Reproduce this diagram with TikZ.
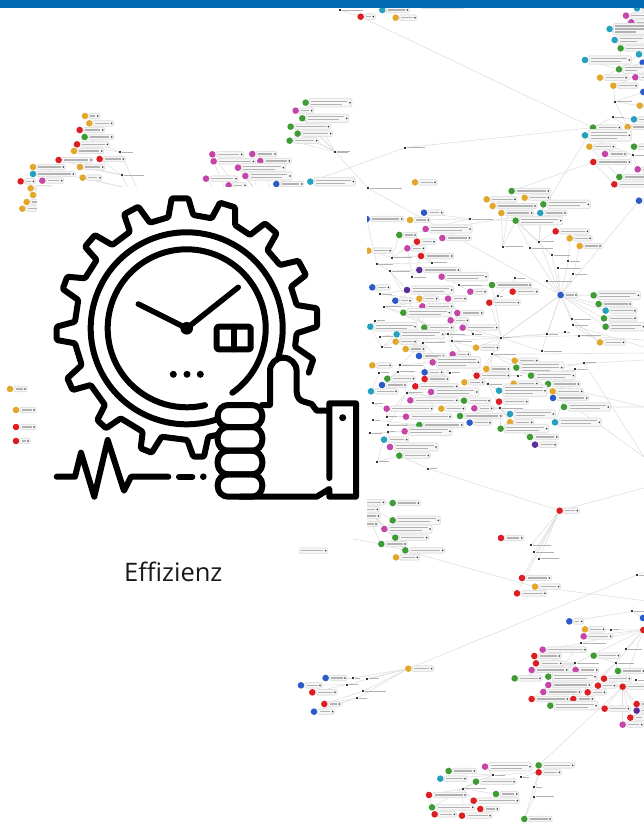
\documentclass[tikz,border=0pt]{standalone}
\usepackage{fontspec}
\setmainfont{Open Sans}
\definecolor{gg}{HTML}{3F9C35}
\definecolor{mm}{HTML}{C545A8}
\definecolor{rr}{HTML}{DC1E22}
\definecolor{bb}{HTML}{2A5BC8}
\definecolor{tt}{HTML}{25A0BE}
\definecolor{oo}{HTML}{E3A82B}
\definecolor{pp}{HTML}{5B2D9B}
\definecolor{barblue}{HTML}{0069B4}
\pgfdeclarelayer{edgelayer}
\pgfdeclarelayer{toplayer}
\pgfsetlayers{edgelayer,main,toplayer}
\tikzset{
  edge/.style={line width=0.6pt,draw=black!12},
  gdot/.style={circle,inner sep=0pt,minimum size=6.6pt},
  hubdot/.style={rectangle,fill=black!80,inner sep=0pt,minimum size=1.8pt},
  pillbox/.style={fill=black!3,draw=black!11,line width=1pt,rounded corners=2pt},
  labelbar/.style={draw=black!30,line width=1.1pt},
  tipdot/.style={fill=black!80},
  ico/.style={draw=black,line width=6pt,line cap=round,line join=round},
  zc/.style={x=0.33333pt,y=-0.33333pt,shift={(#1)}}
}
% list items: name/x/y/colour/end of label/lines of label
\newcommand\gnodes[1]{%
 \foreach \n/\px/\py/\pc/\pe/\pl in {#1}{%
  \pgfmathsetmacro\W{(\pe-\px)/3}%
  \pgfmathsetmacro\HH{2.7+1.5*(\pl-1)}%
  \node[gdot,fill=\pc] (\n) at (\px,\py) {};
  \path[pillbox] ([shift={(3.8pt,\HH pt)}]\n.center) rectangle ([shift={(\W pt+2pt,-\HH pt)}]\n.center);
  \fill[tipdot] ([xshift=\W pt]\n.center) circle[radius=0.9pt];
  \ifnum\pl=1
   \draw[labelbar] ([xshift=5.5pt]\n.center) -- ([xshift=\W pt-2.5pt]\n.center);
  \else\ifnum\pl=2
   \draw[labelbar] ([shift={(5.5pt,1.6pt)}]\n.center) -- ([shift={(\W pt-2.5pt,1.6pt)}]\n.center);
   \draw[labelbar] ([shift={(5.5pt,-1.6pt)}]\n.center) -- ([shift={(\W pt-8pt,-1.6pt)}]\n.center);
  \else
   \draw[labelbar] ([shift={(5.5pt,3pt)}]\n.center) -- ([shift={(\W pt-2.5pt,3pt)}]\n.center);
   \draw[labelbar] ([xshift=5.5pt]\n.center) -- ([xshift=\W pt-2.5pt]\n.center);
   \draw[labelbar] ([shift={(5.5pt,-3pt)}]\n.center) -- ([shift={(\W pt-12pt,-3pt)}]\n.center);
  \fi\fi
 }}
% list items: name/x/y/label width
\newcommand\ghubs[1]{%
 \foreach \n/\px/\py/\pw in {#1}{%
  \pgfmathsetmacro\W{\pw/3}%
  \node[hubdot] (\n) at (\px,\py) {};
  \draw[draw=black!30,line width=1pt] ([xshift=2pt]\n.center) -- ([xshift=\W pt]\n.center);
 }}
\newcommand\gedges[1]{%
 \begin{pgfonlayer}{edgelayer}
 \foreach \ea/\eb in {#1}{\draw[edge] (\ea) -- (\eb);}
 \end{pgfonlayer}}
\begin{document}
\begin{tikzpicture}[x=1pt,y=-1pt]
\useasboundingbox (0,0) rectangle (644,823);
\begin{pgfonlayer}{edgelayer}
\fill[white] (0,0) rectangle (644,823);
\end{pgfonlayer}
% free ends
\coordinate (re1) at (644,340);
\coordinate (re2) at (644,347);
\coordinate (re3) at (644,353);
\coordinate (re4) at (644,360);
\coordinate (re5) at (644,407);
\coordinate (re6) at (644,457);
\coordinate (re7) at (644,488);
\coordinate (re8) at (644,600.7);
\coordinate (re9) at (644,572);
\coordinate (pz1) at (353,539);
\coordinate (pz2) at (285,230);
\coordinate (pz3) at (260,220);
\coordinate (pz4) at (235,215);
\coordinate (pz5) at (150,215);
\coordinate (pz6) at (135,205);
\coordinate (pz7) at (360,500);
% ---------- upper left cluster
\begin{scope}[zc={0pt,-90pt}]
\gnodes{l1/255/78/oo/293/1,l2/268/100/oo/335/1,l3/239/120/rr/308/1,l4/254/141/gg/335/1,l5/231/163/rr/322/1,l6/222/183/oo/305/1,l7/176/210/rr/273/1,l8/299/207/rr/370/1,l9/99/231/oo/190/1,l10/240/231/oo/308/1,l11/99/252/tt/220/1,l12/248/263/oo/300/1,l13/62/274/rr/100/1,l14/127/272/mm/185/1,l15/92/295/oo/150/1,l16/99/315/oo/150/1,l17/80/336/oo/150/1,l18/67/356/oo/150/1}
\ghubs{k1/360/187/40,k2/365/255/68,k3/380/294/70}
\end{scope}
\gedges{l4/k1,l5/k1,l8/k2,l10/k2,l12/k3,l9/k3,l7/k2,k1/pz5,k2/pz6}
% ---------- upper middle cluster
\begin{scope}[zc={0pt,-90pt}]
\gnodes{a1/917/38/gg/1050/2,a2/887/62/mm/935/1,a3/907/85/gg/1040/2,a4/872/110/gg/985/1,a5/893/131/gg/992/1,a6/869/152/gg/950/1,a7/637/193/mm/725/1,a8/757/192/mm/825/1,a9/641/214/mm/760/1,a10/781/213/mm/868/1,a11/714/233/mm/850/2,a12/736/258/mm/870/2,a13/618/266/mm/708/1,a14/686/286/mm/735/1,a15/829/282/bb/905/1,a16/931/275/tt/1060/2}
\ghubs{ah/1005/185/45}
\end{scope}
\gedges{ah/a1,ah/a2,ah/a3,ah/a4,ah/a5,ah/a6,a7/pz3,a8/pz3,a9/pz4,a10/pz2,a11/pz2,a12/pz2,a13/pz4,a14/pz3,a15/pz2}
% ---------- far left
\gnodes{q1/10/389/oo/55/1,q2/16/410/oo/70/1,q3/16/427/rr/70/1,q4/16/441/rr/52/1}
% ---------- top and top right cluster
\begin{scope}[zc={330pt,0pt}]
\gnodes{t1/92/50/rr/130/1,t2/157/30/tt/232/1,t3/197/53/oo/255/1,t4/262/18/white/395/1,t5/255/547/oo/315/1,
r1/921/25/tt/990/1,r2/888/47/mm/960/1,r3/904/67/mm/970/1,r4/839/87/tt/955/3,r5/854/120/tt/945/2,r6/872/145/gg/955/1,r7/927/163/tt/975/1,r8/765/180/tt/898/2,r9/938/188/bb/975/1,r10/867/208/gg/945/2,r11/810/233/oo/888/1,r12/916/232/mm/975/1,r13/850/257/oo/918/1,r14/940/276/bb/975/1,r15/929/317/oo/975/1,r16/912/358/tt/975/1,r17/893/381/oo/975/1,r18/789/383/gg/868/1,r19/765/406/tt/898/3,r20/778/440/oo/850/1,r21/912/440/gg/975/1,r22/825/462/mm/885/1,r23/790/486/rr/898/1,r24/923/508/mm/975/1,r25/868/531/gg/960/1,r26/853/553/rr/960/1}
\ghubs{s1/855/305/50,s2/848/351/35,s3/908/465/45,s4/30/30/70,s5/225/443/60,s6/15/457/40,s7/115/565/100}
\end{scope}
% ---------- central cluster
\begin{scope}[zc={360pt,-190pt}]
\gnodes{c1/455/3/gg/565/1,c2/380/28/oo/465/1,c3/494/23/oo/565/1,c4/398/48/oo/525/1,c5/550/43/gg/685/2,c6/424/69/oo/515/1,c7/541/69/tt/615/1,c8/467/92/gg/602/2,c9/837/32/bb/868/1,c10/192/68/bb/245/1,c11/20/87/bb/125/1,c12/150/90/oo/205/1,c13/197/117/mm/330/2,c14/118/135/gg/165/1,c15/247/144/mm/328/1,c16/171/155/rr/222/1,c17/587/124/rr/682/1,c18/629/145/oo/690/1,c19/659/168/oo/720/1,c20/142/175/mm/190/1,c21/25/182/oo/90/1,c22/183/198/rr/275/1,c23/178/240/pp/295/1,c24/245/260/mm/378/2,c25/396/285/gg/510/1,c26/37/292/bb/85/1,c27/141/300/pp/275/2,c28/331/305/mm/375/1,c29/458/305/rr/530/1,c30/701/316/gg/835/2,c31/106/332/bb/150/1,c32/178/326/oo/230/1,c33/264/326/mm/315/1,c34/716/342/gg/810/1,c35/388/338/rr/475/1,c36/187/349/mm/275/1,c37/737/362/tt/825/1,c38/130/368/gg/268/2,c39/292/369/mm/365/1,c40/732/385/gg/825/1,c41/272/391/mm/322/1,c42/31/410/tt/165/2,c43/193/413/gg/275/1,c44/308/413/mm/410/1,c45/737/410/gg/850/2,c46/110/433/tt/248/2,c47/107/455/oo/165/1,c48/720/457/oo/790/1,c49/137/477/oo/190/1,c50/348/473/oo/412/1,c51/177/498/bb/250/1,c52/278/493/mm/325/1,c53/37/526/oo/90/1,c54/218/517/mm/355/3,c55/464/512/oo/530/1,c56/469/533/gg/605/3,c57/379/537/oo/445/1,c58/194/547/bb/245/1,c59/513/557/gg/640/2,c60/350/557/rr/445/1,c61/194/567/rr/262/1,c62/82/566/gg/160/1,c63/313/577/oo/368/1,c64/66/585/bb/135/1,c65/166/589/rr/290/1,c66/461/581/oo/530/1,c67/564/582/gg/655/1,c68/33/604/tt/108/1,c69/213/606/mm/350/2,c70/417/602/tt/555/3,c71/578/604/oo/665/1,c72/579/624/bb/680/1,c73/151/631/mm/290/1,c74/312/632/gg/387/1,c75/417/635/rr/500/1,c76/612/651/gg/745/2,c77/80/656/mm/215/1,c78/244/656/oo/310/1,c79/343/655/mm/395/1,c80/450/672/tt/580/2,c81/138/680/mm/270/1,c82/300/678/gg/422/1,c83/450/697/oo/515/1,c84/585/697/tt/718/2,c85/178/705/gg/305/1,c86/329/698/bb/390/1,c87/422/716/gg/560/2,c88/134/724/mm/270/2,c89/72/749/tt/140/1,c90/510/741/gg/590/1,c91/525/764/pp/585/1,c92/90/771/mm/228/2,c93/118/797/gg/205/1,c94/602/315/bb/648/1}
\ghubs{h1/330/87/70,h2/428/170/60,h3/510/175/70,h4/537/155/45,h5/575/195/55,h6/625/214/35,h7/593/235/70,h8/640/253/40,h9/560/273/75,h10/466/265/30,h11/637/387/55,h12/640/406/45,h13/615/427/15,h14/657/437/65,h15/560/433/35,h16/424/443/25,h17/545/483/60,h18/397/493/70,h19/672/518/35,h20/645/538/35,h21/297/285/70,h22/215/218/45,h23/157/262/40,h24/90/243/60,h25/50/222/50,h26/95/203/60,h27/265/433/50,h28/340/433/25,h29/275/453/60,h30/190/458/65,h31/120/525/70,h32/115/545/50,h33/415/318/15,h34/475/557/12,h35/270/548/30,h36/385/583/40,h37/140/608/45,h38/420/655/70,h39/80/680/30,h40/85/705/60,h41/85/725/20,h42/205/836/25,h43/52/815/35,h44/65/472/30,h45/60/440/40,h46/72/350/50,h47/60/312/35,h48/45/392/30,h49/58/548/30,h50/38/640/30,h51/40/690/20,h52/30/730/35}
\end{scope}
\gedges{s4/t1,t1/r18,s5/r18,s5/a16,ah/s7,s7/c94,r23/c1,s1/r15,s1/r13,s1/r17,s2/r17,s2/r16,s2/r18,s3/r22,s3/r21,s3/r20,r19/s3,r20/r25,r11/r10,r8/r10,r10/r7,r10/r9,r13/r12,r11/r12,s1/r14,r6/r10,r5/r6,r4/r7,r1/r7,r2/r7,r3/r7,r18/r22,r16/s2,r24/s3,r26/r23,r25/s3,c14/c7,c7/r18,
c94/h3,c94/h4,c94/h5,c94/h6,c94/h7,c94/h8,c94/h9,c94/h11,c94/h12,c94/c30,c94/c34,c94/c37,c94/c40,c94/c45,c94/h16,c94/h15,c94/c9,c94/h17,h14/re1,h12/re2,h18/re3,c56/re4,c76/re5,h19/re6,c67/re5,c59/re6,h11/c48,h13/h16,h14/h16,c48/h12,h1/c12,h1/c13,h1/c8,h1/c10,h2/c8,h2/c6,h3/c8,h4/c8,h5/c8,h4/c5,h4/c7,h4/c17,h2/c1,h6/c18,h8/c19,c16/h22,c20/h23,c22/h23,c22/h22,c23/h24,c24/h21,c25/h21,c25/h16,c27/h24,c28/h21,c29/h10,c35/h10,c35/h33,c33/h28,c39/h28,c41/h29,c43/h27,c44/h16,c46/h30,c50/h16,c50/h29,c52/h27,c54/h35,c55/h18,c56/h18,c57/h16,c60/h18,c60/h34,c61/h30,c58/h32,c65/h37,c66/h36,c63/h36,c70/h36,c75/h38,c80/h38,c83/h38,c87/h38,c90/h38,c91/h38,c74/h37,c82/h38,c79/h38,c78/h37,c69/h37,c73/h37,c77/h39,c81/h39,c85/h40,c88/h41,c92/h41,c89/h41,c93/h42,c42/h44,c46/h44,c47/h44,c49/h30,c51/h30,c62/h32,c64/h32,c68/h49,c53/h31,c54/h31,c38/h46,c36/h46,c31/h46,c26/h47,c27/h47,c32/h47,c33/h46,h46/h27,h30/h16,h27/h16,h29/h36,h36/h38,h18/h36,h16/h18,c59/h19,c59/h20,c76/h20,c71/h20,c72/h20,c67/h20,c84/h20,h15/h16,h17/h16,c35/h16,c86/h40,h31/h30,h32/h31,h37/h32,h38/h37,h40/h37,h39/h37,h43/c93,h43/c89,h48/c42,h45/c46,h50/c77,h51/c85,h52/c88,h22/h25,h24/h25,h26/c22,h26/c21,c11/h25,c14/h26,c16/h26,h16/c94,c46/h27,c38/h27,c43/h24,c36/h30,c41/h30,c44/h27,c39/h29,c58/h35,c60/h29,c65/h35,h35/h30}
% ---------- lower clusters
\begin{scope}[zc={290pt,-500pt}]
\gnodes{z1/308/9/gg/385/1,z2/308/61/gg/445/2,z3/283/87/mm/420/2,z4/316/113/gg/410/1,z5/274/132/gg/345/1,z6/346/151/gg/458/1,z7/318/172/oo/382/1,z8/809/32/rr/862/1,z9/633/114/rr/695/1,z10/696/234/rr/778/1,z11/735/260/oo/806/1,z12/681/280/rr/765/1,z13/355/506/oo/425/1,z14/107/534/bb/165/1,z15/33/556/bb/90/1,z16/67/577/rr/135/1,z17/103/612/rr/148/1,z18/72/635/bb/128/1,z19/838/364/bb/875/1,z20/1059/354/bb/1100/1,z21/885/388/oo/940/1,z22/1060/390/rr/1100/1,z23/881/409/mm/962/1,z24/758/449/mm/885/1,z25/911/467/gg/985/1,z26/733/468/rr/808/1,z27/738/490/rr/812/1,z28/725/510/mm/830/1,z29/857/510/mm/920/1,z30/984/513/gg/1060/1,z31/775/530/gg/915/2,z32/674/535/gg/750/1,z33/942/536/rr/1018/1,z34/775/555/mm/898/1,z35/924/557/rr/973/1,z36/998/560/rr/1070/1,z37/760/576/mm/868/1,z38/893/577/rr/943/1,z39/725/597/rr/832/1,z40/850/597/rr/907/1,z41/781/617/gg/918/2,z42/1040/612/rr/1080/1,z43/944/626/rr/1015/1,z44/1040/632/pp/1080/1,z45/1021/653/rr/1065/1,z46/998/674/mm/1055/1,z47/585/800/mm/720/2,z48/746/796/gg/848/1,z49/476/813/gg/553/1,z50/746/817/rr/808/1,z51/451/836/tt/525/1,z52/558/845/gg/672/1,z53/618/882/gg/680/1,z54/417/885/rr/525/1,z55/551/902/rr/682/1,z56/426/922/gg/548/1,z57/571/927/rr/622/1,z58/434/943/rr/493/1,z59/516/947/rr/600/1,z60/703/957/gg/780/1,z61/215/7/oo/280/1,z62/215/28/oo/262/1,z63/215/48/oo/265/1,z64/215/72/oo/258/1,z65/16/152/white/107/1}
\ghubs{y1/723/135/60,y2/733/156/60,y3/747/176/60,y4/190/534/20,y5/232/536/35,y6/170/554/35,y7/218/574/70,y8/202/594/30,y9/1027/334/40,y10/963/389/25,y11/872/430/75,y12/1007/448/50,y13/978/489/55,y14/856/490/70,y15/1037/540/25,y16/610/826/35,y17/692/832/25,y18/518/866/70,y19/732/862/25,y20/733/890/60,y21/1040/225/40}
\end{scope}
\gedges{z13/y21,y21/re9,z13/y4,z13/y5,z13/y6,z13/y7,z13/y8,y4/z14,y6/z15,y6/z16,y8/z17,y7/z17,y8/z18,z8/y1,z8/y2,z8/y3,z8/z10,z8/z12,z8/h42,z8/re7,z11/re8,z11/z5,z5/pz1,z1/pz7,z2/pz7,z3/pz7,z4/pz7,z5/pz7,z6/pz7,
y9/z20,y9/z19,y10/z21,y10/z22,z22/z23,y11/z22,y11/z24,y12/z22,y13/z22,y13/z25,y14/z22,y14/z26,y14/z27,y14/z28,y14/z29,y14/z31,y14/z34,y11/z37,y13/z38,z36/z42,z36/z43,z36/z44,z36/z45,z36/z46,z36/y15,z36/z33,z36/z35,z30/y13,z36/y13,z36/z22,z32/y14,z41/y14,z39/y14,z40/y13,
z50/z48,z50/y16,z50/y17,z50/y19,z50/y20,y19/z60,y20/z60,z48/z36,y16/z47,y18/z54,y18/z55,y18/z56,y18/z52,y18/z53,y18/z57,z55/z59,z54/z58,y16/z52,y18/y16,y18/z59,z49/y16,z51/y16}
% ---------- panel, bar, icon, caption
\begin{pgfonlayer}{toplayer}
\fill[white] (37,187) rectangle (367,539);
\fill[barblue] (0,0) rectangle (644,8);
\coordinate (cc) at (186.7,328.3);
% gear
\draw[ico,rounded corners=1.2pt] (216.7,435) -- (208.3,436.7) -- (204,456.7) -- (193.3,456.7) -- (187.3,440) -- (161.7,436.7) -- (151.7,452.7) -- (140.7,448.3) -- (142.7,431.7) -- (120.7,418.3) -- (106,428.3) -- (97.3,420) -- (105,405) -- (90.7,385) -- (72.7,390) -- (67.3,378.3) -- (81.7,365) -- (75,343.3) -- (56.7,340) -- (56.7,326.7) -- (75,321.7) -- (78.3,300) -- (62.7,289) -- (67.3,276.7) -- (85,278.3) -- (96.7,260) -- (85,246.7) -- (95,235) -- (112.3,245) -- (130,231.7) -- (124,214.3) -- (138.3,206.7) -- (150,222.7) -- (168.3,217.3) -- (171.7,198.3) -- (188.3,198.3) -- (193.3,215) -- (211.7,218.3) -- (220,202.7) -- (235,207.3) -- (235,225) -- (250,235) -- (265,223.3) -- (276.7,233.3) -- (267.3,250) -- (280,265) -- (298.3,260.7) -- (306,275) -- (291,286.7) -- (296.7,305) -- (317,308.3) -- (317,326.7) -- (296.7,333.3) -- (295,346.7) -- (313.3,359.3) -- (308.8,372.7);
% rings
\draw[ico] ([shift={(-17:96pt)}]cc) arc[start angle=-17,end angle=288.4,radius=96pt];
\draw[ico] ([shift={(-54.7:79pt)}]cc) arc[start angle=-54.7,end angle=283.4,radius=79pt];
% hands
\fill (cc) circle[radius=6.3pt];
\draw[ico,line width=5.5pt] (138.3,304) -- (cc) -- (238.3,287.3);
% date window
\draw[ico,rounded corners=2pt] (216.7,326.7) rectangle (250.7,349.3);
\draw[ico] (233.5,326.7) -- (233.5,349.3);
% three dots
\foreach \dx in {173.3,187,200.3} \fill (\dx,374.3) circle[radius=3.5pt];
% thumb
\draw[ico] (262,405) -- (270,405) -- (270,371) arc[start angle=180,end angle=0,radius=13.3pt] -- (296.7,392) .. controls (297,398) and (300,401) .. (305,402) -- (311.7,404) -- (316.7,410.7) -- (329,410.7);
\draw[ico] (329.3,478) -- (329.3,403.3) -- (356,403.3) -- (356,496.7) -- (329.3,496.7) -- (329.3,489) -- (316.7,496.7) -- (240,496.7);
\fill (342.7,417.7) circle[radius=3.5pt];
\draw[ico,rounded corners=10.5pt] (217.7,405) rectangle (262.3,427);
\draw[ico,rounded corners=10.5pt] (217.7,427) rectangle (262.3,450.7);
\draw[ico,rounded corners=10.5pt] (217.7,450.7) rectangle (262.3,474.3);
\draw[ico,rounded corners=10.5pt] (217.7,474.3) rectangle (262.3,496.7);
% pulse
\draw[ico] (56.7,476.7) -- (75,476.7) -- (81,452.7) -- (94.3,496.7) -- (107.7,440) -- (124,490.7) -- (131,476.7) -- (168.3,476.7);
\draw[ico] (179,476.7) -- (192.3,476.7);
\fill (203.3,476.7) circle[radius=3.3pt];
\node[anchor=base west,inner sep=0pt,font=\fontsize{25.5pt}{30pt}\selectfont,text=black!90] (cap) at (124,581.7) {Effizienz};
\end{pgfonlayer}
\end{tikzpicture}
\end{document}
